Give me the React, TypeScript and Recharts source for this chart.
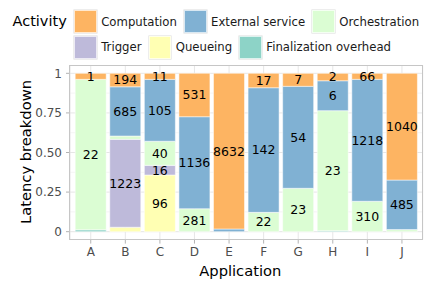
import React from "react";
import { BarChart, Bar, XAxis, YAxis, CartesianGrid, LabelList } from "recharts";

// applications on the x axis
const apps = ["A", "B", "C", "D", "E", "F", "G", "H", "I", "J"];

// share of latency per activity (bottom -> top of each stack)
const finalization = [0.012, 0, 0, 0, 0, 0, 0, 0.006, 0, 0];
const queueing = [0, 0.028, 0.358, 0, 0, 0, 0, 0, 0, 0];
const trigger = [0, 0.555, 0.061, 0, 0, 0, 0, 0, 0, 0];
const orchestration = [0.95, 0.021, 0.152, 0.145, 0, 0.122, 0.274, 0.758, 0.192, 0.013];
const external = [0, 0.311, 0.391, 0.581, 0.017, 0.787, 0.644, 0.189, 0.77, 0.313];
const computation = [0.038, 0.085, 0.038, 0.274, 0.983, 0.091, 0.082, 0.047, 0.038, 0.674];

// absolute values printed in the segments (null = no label)
const queueingLabels = [null, null, 96, null, null, null, null, null, null, null];
const triggerLabels = [null, 1223, 16, null, null, null, null, null, null, null];
const orchestrationLabels = [22, null, 40, 281, null, 22, 23, 23, 310, null];
const externalLabels = [null, 685, 105, 1136, null, 142, 54, 6, 1218, 485];
const computationLabels = [1, 194, 11, 531, 8632, 17, 7, 2, 66, 1040];

const yTicks = [0, 0.25, 0.5, 0.75, 1];
const minorTicks = [0.125, 0.375, 0.625, 0.875];

const series = [
  { key: "fin", name: "Finalization overhead", color: "#8DD3C7", values: finalization, labels: null },
  { key: "que", name: "Queueing", color: "#FFFFB3", values: queueing, labels: queueingLabels },
  { key: "trg", name: "Trigger", color: "#BEBADA", values: trigger, labels: triggerLabels },
  { key: "orc", name: "Orchestration", color: "#DBFDD3", values: orchestration, labels: orchestrationLabels },
  { key: "ext", name: "External service", color: "#80B1D3", values: external, labels: externalLabels },
  { key: "cmp", name: "Computation", color: "#FDB462", values: computation, labels: computationLabels },
];

const legendRows = [
  ["Computation", "External service", "Orchestration"],
  ["Trigger", "Queueing", "Finalization overhead"],
];

const data = apps.map((app, i) => {
  const row: Record<string, string | number | null> = { app };
  series.forEach((s) => {
    row[s.key] = s.values[i];
    row[s.key + "Label"] = s.labels ? s.labels[i] : null;
  });
  return row;
});

const fmtY = (v: number) => (v === 0 || v === 1 ? String(v) : v.toFixed(2));

function LegendBox() {
  const colorOf = (n: string) => series.find((s) => s.name === n)!.color;
  return (
    <div style={{ position: "absolute", left: 12.5, top: 10.3 }}>
      <div style={{ position: "absolute", left: 0, top: 0, height: 23, lineHeight: "23px", fontSize: 14.5, color: "#000" }}>
        Activity
      </div>
      {legendRows.map((row, r) => (
        <div key={r} style={{ position: "absolute", left: 61.5, top: r * 25.7, display: "flex", whiteSpace: "nowrap" }}>
          {row.map((n) => (
            <div key={n} style={{ display: "flex", alignItems: "center", marginRight: 7 }}>
              <div
                style={{
                  width: 22.7,
                  height: 23,
                  boxSizing: "border-box",
                  background: colorOf(n),
                  border: "1px solid rgba(255,255,255,0.7)",
                  boxShadow: "0 0 0 0.6px #e2e2e2",
                }}
              />
              <span style={{ marginLeft: 4.5, fontSize: 11.7, color: "#1a1a1a" }}>{n}</span>
            </div>
          ))}
        </div>
      ))}
    </div>
  );
}

export default function App() {
  return (
    <div style={{ position: "absolute", left: 0, top: 0, width: 436, height: 289, background: "#fff", fontFamily: "'DejaVu Sans', sans-serif" }}>
      <BarChart
        width={436}
        height={289}
        data={data}
        margin={{ top: 65.4, right: 13.3, bottom: 0, left: 0 }}
        barCategoryGap="5%"
      >
        <CartesianGrid horizontalValues={minorTicks} vertical={false} stroke="#efefef" strokeWidth={0.6} />
        <CartesianGrid horizontalValues={yTicks} stroke="#e3e3e3" strokeWidth={0.9} />
        <XAxis
          dataKey="app"
          height={49.4}
          padding={{ left: 3.46, right: 3.46 }}
          axisLine={false}
          tickLine={{ stroke: "#b3b3b3" }}
          tickSize={4}
          tickMargin={4}
          tick={{ fill: "#4d4d4d", fontSize: 12 }}
          interval={0}
        />
        <YAxis
          width={70}
          type="number"
          domain={[-0.05, 1.05]}
          ticks={yTicks}
          tickFormatter={fmtY}
          axisLine={false}
          tickLine={{ stroke: "#b3b3b3" }}
          tickSize={4}
          tickMargin={4}
          tick={{ fill: "#4d4d4d", fontSize: 12 }}
          interval={0}
        />
        {series.map((s) => (
          <Bar
            key={s.key}
            dataKey={s.key}
            name={s.name}
            stackId="a"
            fill={s.color}
            stroke="#ffffff"
            strokeWidth={0.5}
            isAnimationActive={false}
          >
            <LabelList dataKey={s.key + "Label"} position="center" fill="#000" fontSize={12.5} />
          </Bar>
        ))}
      </BarChart>
      {/* panel border */}
      <div
        style={{
          position: "absolute",
          left: 69.35,
          top: 64.75,
          width: 354,
          height: 175.5,
          boxSizing: "border-box",
          border: "1.3px solid #c6c6c6",
          pointerEvents: "none",
        }}
      />
      {/* axis titles */}
      <div
        style={{
          position: "absolute",
          left: 24.5,
          top: 152,
          transform: "translate(-50%, -50%) rotate(-90deg)",
          fontSize: 14.7,
          whiteSpace: "nowrap",
          color: "#000",
        }}
      >
        Latency breakdown
      </div>
      <div
        style={{
          position: "absolute",
          left: 240.3,
          top: 270.4,
          transform: "translate(-50%, -50%)",
          fontSize: 14.7,
          whiteSpace: "nowrap",
          color: "#000",
        }}
      >
        Application
      </div>
      <LegendBox />
    </div>
  );
}
